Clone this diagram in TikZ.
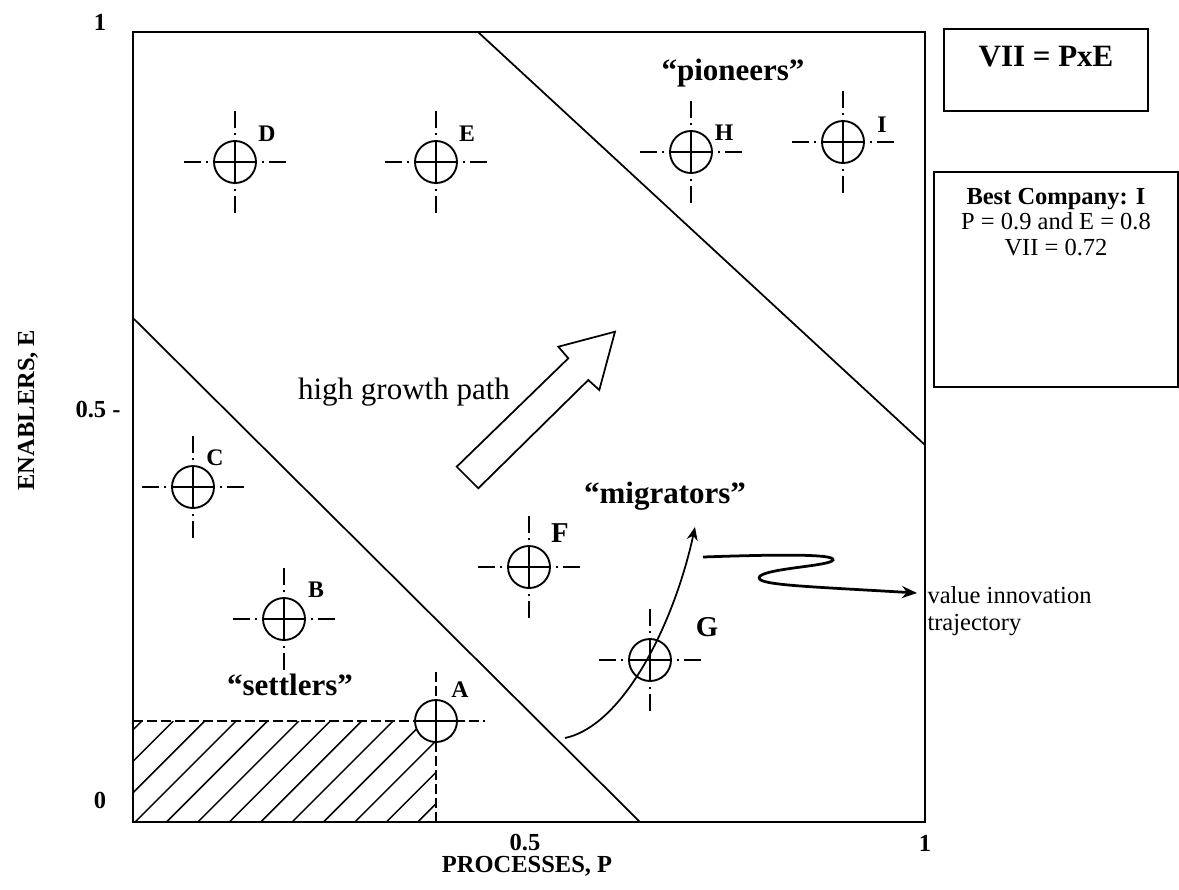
\documentclass[tikz,border=0pt]{standalone}
\usepackage{fontspec}
\setmainfont{Liberation Serif}
\usetikzlibrary{calc,arrows.meta}
\newcommand\mymark[3]{%
  \node[mkc] (#1) at (#2,#3) {};
  \draw[mkl] ($(#1)+(-21,0)$) -- ($(#1)+(21,0)$);
  \draw[mkl] ($(#1)+(0,-21)$) -- ($(#1)+(0,21)$);
  \foreach \s in {-1,1} {
    \draw[mkl] ($(#1)+(\s*27,0)$) -- ($(#1)+(\s*29,0)$);
    \draw[mkl] ($(#1)+(\s*34,0)$) -- ($(#1)+(\s*51,0)$);
    \draw[mkl] ($(#1)+(0,\s*27)$) -- ($(#1)+(0,\s*29)$);
    \draw[mkl] ($(#1)+(0,\s*34)$) -- ($(#1)+(0,\s*51)$);
  }%
}
\begin{document}
\begin{tikzpicture}[x=0.4pt,y=-0.4pt,
  mkc/.style={circle,draw,line width=0.75pt,fill=white,minimum size=16.8pt,inner sep=0pt},
  mkl/.style={line width=0.7pt},
  lbl/.style={font=\fontsize{9.5}{11}\selectfont\bfseries,inner sep=0pt},
  biglbl/.style={font=\fontsize{11.5}{13}\selectfont\bfseries,inner sep=0pt},
  grp/.style={font=\fontsize{12.4}{14}\selectfont\bfseries,inner sep=0pt,anchor=base},
  axl/.style={font=\fontsize{9.8}{11}\selectfont\bfseries,inner sep=0pt},
  boxl/.style={draw,line width=0.8pt,inner sep=0pt},
  dsh/.style={line width=0.65pt,dash pattern=on 4pt off 1.6pt},
  hatch/.style={line width=0.6pt},
  diag/.style={line width=0.7pt}]
\useasboundingbox (0,0) rectangle (1179,889);
% frame
\draw[line width=0.85pt] (133,32) rectangle (925,822);
% hatching
\begin{scope}
\clip (133,721) rectangle (436,822);
\foreach \k in {-5,...,12} \draw[hatch] ({173.3+31.4*\k},721) -- ({173.3+31.4*\k-101},822);
\end{scope}
% dashed reference lines for A
\coordinate (hl) at (133,721);
\coordinate (hr) at (485,721);
\coordinate (vt) at (436,672);
\coordinate (vb) at (436,822);
\draw[dsh] (hl) -- (hr);
\draw[dsh] (vt) -- (vb);
% diagonals
\coordinate (u1) at (478,32);
\coordinate (u2) at (925,445);
\coordinate (l1) at (133,318);
\coordinate (l2) at (640,822);
\draw[diag] (u1) -- (u2);
\draw[diag] (l1) -- (l2);
% markers
\mymark{D}{235}{162}
\mymark{E}{436}{162}
\mymark{H}{691}{152}
\mymark{I}{843}{142}
\mymark{C}{193}{487}
\mymark{B}{284}{619}
\mymark{F}{529}{567}
\mymark{G}{650}{660}
\node[mkc] (A) at (436,721) {};
\draw[mkl] ($(A)+(-21,0)$) -- ($(A)+(21,0)$);
\draw[mkl] ($(A)+(0,-21)$) -- ($(A)+(0,21)$);
% marker labels
\node[lbl] (tD) at (267,134) {D};
\node[lbl] (tE) at (467,134) {E};
\node[lbl] (tH) at (724,133) {H};
\node[lbl] (tI) at (882,125) {I};
\node[lbl] (tC) at (215,458) {C};
\node[lbl] (tB) at (316,590) {B};
\node[lbl] (tA) at (460,690) {A};
\node[biglbl] (tF) at (560,533) {F};
\node[biglbl] (tG) at (707,627) {G};
% group labels
\node[grp] (pio) at (733,80) {“pioneers”};
\node[grp] (set) at (290,695) {“settlers”};
\node[grp] (mig) at (665,503) {“migrators”};
\node[font=\fontsize{12.4}{14}\selectfont,inner sep=0pt,anchor=base] (hgp) at (404,399) {high growth path};
% block arrow
\draw[line width=0.7pt,fill=white] (456.7,466.7) -- (478.3,488.3) -- (588.3,380) -- (599.3,390)
  -- (615,331.7) -- (558.3,346.7) -- (568.3,358.3) -- cycle;
% migration curve
\coordinate (ms) at (565,738);
\coordinate (me) at (695,527);
\draw[line width=0.7pt,-{Stealth[length=5.3pt,width=4.4pt]}] (ms) .. controls (625,725) and (675,620) .. (me);
% value innovation trajectory
\coordinate (ws) at (703,557);
\coordinate (we) at (917,593);
\draw[line width=1.1pt,-{Stealth[length=6pt,width=4.8pt]}] (ws) .. controls (760,555) and (836,553) .. (833,560)
  .. controls (830,566) and (770,568) .. (760,576)
  .. controls (752,585) and (800,586) .. (we);
\node[font=\fontsize{9.8}{11}\selectfont,inner sep=0pt,anchor=west,align=left] (vit) at (927,611) {value innovation\\trajectory};
% right boxes
\node[boxl,minimum width=81.6pt,minimum height=32.8pt] (vbox) at (1046,70) {};
\node[font=\fontsize{12.4}{14}\selectfont\bfseries,inner sep=0pt] (vtxt) at (1046,57) {VII = PxE};
\node[boxl,minimum width=97.6pt,minimum height=86pt] (bbox) at (1056,279.5) {};
\node[font=\fontsize{9.8}{10.2}\selectfont,inner sep=0pt,align=center] (btxt) at (1056,222) {\textbf{Best Company: I}\\P = 0.9 and E = 0.8\\VII = 0.72};
% axes labels
\node[axl] (y1) at (100,22) {1};
\node[axl] (y5) at (98,410) {0.5 -};
\node[axl] (y0) at (100,800) {0};
\node[axl] (x5) at (525,843) {0.5};
\node[axl] (x1) at (925,843) {1};
\node[axl] (xl) at (527,866) {PROCESSES, P};
\node[axl,rotate=90] (yl) at (28,410) {ENABLERS, E};
\end{tikzpicture}
\end{document}
